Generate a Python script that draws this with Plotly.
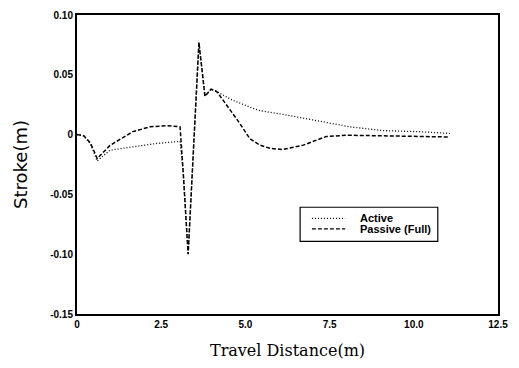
import plotly.graph_objects as go

# Active (dotted)
active_x = [0, 0.2, 0.4, 0.6, 0.98, 1.66, 2.37, 3.06, 3.15, 3.3, 3.45, 3.62, 3.8, 3.98, 4.15, 4.6, 5.13, 5.43, 6.1, 7.1, 8.1, 9.1, 10.1, 11.07]
active_y = [0, -0.001, -0.008, -0.022, -0.013, -0.010, -0.0074, -0.0057, -0.03, -0.100, -0.02, 0.077, 0.032, 0.038, 0.036, 0.029, 0.023, 0.020, 0.017, 0.0115, 0.0065, 0.0033, 0.0025, 0.001]

# Passive (Full) (dashed)
passive_x = [0, 0.2, 0.4, 0.6, 0.98, 1.66, 2.17, 2.65, 3.06, 3.15, 3.3, 3.45, 3.62, 3.8, 3.98, 4.15, 4.78, 5.13, 5.43, 5.73, 6.1, 6.7, 7.4, 8.0, 9.0, 10.0, 11.07]
passive_y = [0, -0.001, -0.007, -0.020, -0.009, 0.0025, 0.0065, 0.0075, 0.0065, -0.03, -0.100, -0.02, 0.077, 0.032, 0.038, 0.036, 0.0115, -0.0033, -0.0088, -0.0115, -0.0125, -0.009, -0.0016, -0.0005, -0.001, -0.002, -0.002]

series_names = ["Active", "Passive (Full)"]
series_dash = ["1px,2px", "4px,2px"]

x_ticks = [0, 2.5, 5.0, 7.5, 10.0, 12.5]
x_labels = ["0", "2.5", "5.0", "7.5", "10.0", "12.5"]
y_ticks = [0.10, 0.05, 0, -0.05, -0.10, -0.15]
y_labels = ["0.10", "0.05", "0", "-0.05", "-0.10", "-0.15"]

fig = go.Figure()
fig.add_trace(go.Scatter(x=active_x, y=active_y, mode="lines", name=series_names[0],
                         line=dict(color="black", width=1.3, dash=series_dash[0])))
fig.add_trace(go.Scatter(x=passive_x, y=passive_y, mode="lines", name=series_names[1],
                         line=dict(color="black", width=1.5, dash=series_dash[1])))

# Compact boxed legend (drawn in paper coordinates)
fig.add_shape(type="rect", xref="paper", yref="paper", x0=0.530, x1=0.857, y0=0.243, y1=0.357,
              line=dict(color="black", width=1.2), fillcolor="white", layer="above")
row_y = [0.320, 0.285]
for name, dash, ry in zip(series_names, series_dash, row_y):
    fig.add_shape(type="line", xref="paper", yref="paper", x0=0.558, x1=0.637, y0=ry, y1=ry,
                  line=dict(color="black", width=1.3, dash=dash), layer="above")
    fig.add_annotation(xref="paper", yref="paper", x=0.667, y=ry, text=name, showarrow=False,
                       xanchor="left", yanchor="middle",
                       font=dict(family="Liberation Sans", size=11, color="black", weight="bold"))

tickfont = dict(family="Liberation Sans", size=10, color="black", weight="bold")
fig.update_layout(
    width=519, height=368,
    margin=dict(l=77, r=21, t=9, b=54),
    paper_bgcolor="white", plot_bgcolor="white",
    showlegend=False,
    xaxis=dict(range=[0, 12.5], tickvals=x_ticks, ticktext=x_labels,
               showgrid=False, zeroline=False, showline=True, linecolor="black",
               linewidth=2, mirror=True, ticks="", tickfont=tickfont,
               title=dict(text="Travel Distance(m)", standoff=16,
                          font=dict(family="DejaVu Serif", size=16, color="black"))),
    yaxis=dict(range=[-0.15, 0.10], tickvals=y_ticks, ticktext=y_labels,
               showgrid=False, zeroline=False, showline=True, linecolor="black",
               linewidth=2, mirror=True, ticks="", tickfont=tickfont,
               title=dict(text="Stroke(m)", standoff=18,
                          font=dict(family="DejaVu Sans", size=18, color="black"))),
)

fig.write_html("out.html")
